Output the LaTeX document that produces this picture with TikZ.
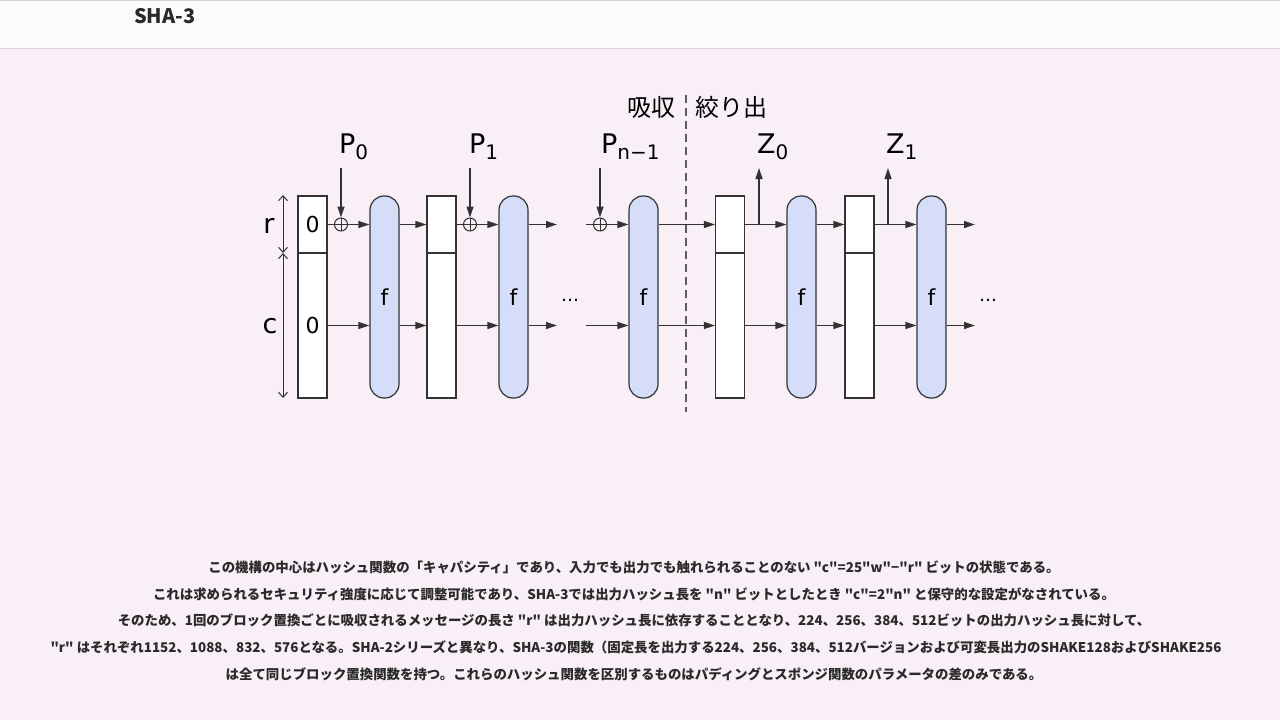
\documentclass[tikz,border=0pt]{standalone}
\usepackage{fontspec}
\setmainfont{DejaVu Sans}
\newfontfamily\jpfont{Noto Sans CJK JP}
\usetikzlibrary{arrows.meta}
\definecolor{pagebg}{HTML}{F8F0F6}
\definecolor{bandbg}{HTML}{FDFAFD}
\definecolor{rulegray}{HTML}{D6D2D6}
\definecolor{linegray}{HTML}{333333}
\definecolor{fblue}{HTML}{D5DDF8}
\definecolor{txtdark}{HTML}{2A2A2A}
\tikzset{
  rpart/.style={draw=linegray,fill=white,line width=1.2pt,minimum width=29pt,
    minimum height=57pt,inner sep=0pt,font=\fontsize{22}{22}\selectfont},
  cpart/.style={rpart,minimum height=145pt},
  fbox/.style={draw=linegray,fill=fblue,line width=1.2pt,rounded corners=14pt,
    minimum width=29pt,minimum height=202pt,inner sep=0pt,font=\fontsize{22}{22}\selectfont},
  xorop/.style={circle,draw=linegray,line width=1pt,minimum size=13pt,inner sep=0pt,
    path picture={\draw[line width=1pt] (path picture bounding box.north) -- (path picture bounding box.south)
      (path picture bounding box.west) -- (path picture bounding box.east);}},
  flow/.style={line width=1.2pt,draw=linegray,-{Triangle[length=11pt,width=7pt]}},
  wire/.style={line width=1.2pt,draw=linegray},
  dimline/.style={line width=1pt,draw=linegray,{Straight Barb[length=5pt,width=9pt]}-{Straight Barb[length=5pt,width=9pt]}},
  lbl/.style={font=\fontsize{27}{27}\selectfont,inner sep=0pt},
  phase/.style={font=\jpfont\fontsize{24}{24}\selectfont,inner sep=0pt},
  dots/.style={font=\fontsize{18}{18}\selectfont,inner sep=0pt},
  bodytext/.style={font=\jpfont\bfseries\fontsize{13.42}{13.42}\selectfont,text=txtdark,inner sep=0pt},
}
\newcommand{\lowidx}[1]{\textsubscript{\fontsize{20}{20}\selectfont #1}}
\begin{document}
\begin{tikzpicture}[x=1pt,y=-1pt]
\useasboundingbox (0,0) rectangle (1280,720);
% page background
\fill[pagebg] (0,0) rectangle (1280,720);
\fill[bandbg] (0,0) rectangle (1280,48);
\draw[rulegray,line width=1pt] (0,0.5) -- (1280,0.5);
\draw[rulegray,line width=1pt] (0,48) -- (1280,48);
\node[font=\jpfont\bfseries\fontsize{20}{20}\selectfont,text=txtdark,anchor=west,inner sep=0pt] (title) at (134,16) {SHA-3};

% state blocks and permutations
\node[rpart] (s1r) at (312.5,224.5) {0};
\node[cpart] (s1c) at (312.5,325.5) {0};
\node[fbox] (f1) at (384.5,297) {f};
\node[rpart] (s2r) at (441.5,224.5) {};
\node[cpart] (s2c) at (441.5,325.5) {};
\node[fbox] (f2) at (513.5,297) {f};
\node[fbox] (f3) at (643.5,297) {f};
\node[rpart] (s3r) at (730,224.5) {};
\node[cpart] (s3c) at (730,325.5) {};
\node[fbox] (f4) at (801.5,297) {f};
\node[rpart] (s4r) at (859.5,224.5) {};
\node[cpart] (s4c) at (859.5,325.5) {};
\node[fbox] (f5) at (931.5,297) {f};

% xor points
\node[xorop] (x1) at (341,224.5) {};
\node[xorop] (x2) at (470,224.5) {};
\node[xorop] (x3) at (600,224.5) {};

% free ends
\coordinate (p0top) at (341,168);
\coordinate (p1top) at (470,168);
\coordinate (p2top) at (600,168);
\coordinate (z0top) at (759,168);
\coordinate (z1top) at (888,168);
\coordinate (e2r) at (557,224.5);
\coordinate (e2c) at (557,325.5);
\coordinate (b3r) at (586,224.5);
\coordinate (b3c) at (586,325.5);
\coordinate (e5r) at (975,224.5);
\coordinate (e5c) at (975,325.5);

% absorbing
\draw[wire] (s1r.east) -- (x1.west);
\draw[flow] (x1.east) -- (f1.west |- x1);
\draw[flow] (s1c.east) -- (f1.west |- s1c);
\draw[flow] (f1.east |- s1r) -- (s2r.west);
\draw[flow] (f1.east |- s1c) -- (s2c.west);
\draw[wire] (s2r.east) -- (x2.west);
\draw[flow] (x2.east) -- (f2.west |- x2);
\draw[flow] (s2c.east) -- (f2.west |- s2c);
\draw[flow] (f2.east |- e2r) -- (e2r);
\draw[flow] (f2.east |- e2c) -- (e2c);
\draw[wire] (b3r) -- (x3.west);
\draw[flow] (x3.east) -- (f3.west |- x3);
\draw[flow] (b3c) -- (f3.west |- b3c);
\draw[flow] (p0top) -- (x1.north);
\draw[flow] (p1top) -- (x2.north);
\draw[flow] (p2top) -- (x3.north);

% squeezing
\draw[flow] (f3.east |- s3r) -- (s3r.west);
\draw[flow] (f3.east |- s3c) -- (s3c.west);
\draw[flow] (s3r.east) -- (f4.west |- s3r);
\draw[flow] (s3c.east) -- (f4.west |- s3c);
\draw[flow] (z0top |- s3r) -- (z0top);
\draw[flow] (f4.east |- s4r) -- (s4r.west);
\draw[flow] (f4.east |- s4c) -- (s4c.west);
\draw[flow] (s4r.east) -- (f5.west |- s4r);
\draw[flow] (s4c.east) -- (f5.west |- s4c);
\draw[flow] (z1top |- s4r) -- (z1top);
\draw[flow] (f5.east |- e5r) -- (e5r);
\draw[flow] (f5.east |- e5c) -- (e5c);

% r / c widths
\coordinate (dtop) at (283,195);
\coordinate (dmid) at (283,253);
\coordinate (dbot) at (283,398);
\draw[dimline] (dtop) -- (dmid);
\draw[dimline] (dmid) -- (dbot);
\node[lbl,anchor=base] (rlbl) at (269,233) {r};
\node[lbl,anchor=base] (clbl) at (270,333) {c};

% phase split
\coordinate (cuttop) at (686,95);
\coordinate (cutbot) at (686,412);
\draw[linegray!80,line width=1.2pt,dash pattern=on 8pt off 5pt] (cuttop) -- (cutbot);
\node[phase,anchor=east] (absorb) at (676,107) {吸収};
\node[phase,anchor=west] (squeeze) at (695,107) {絞り出};

% block labels
\node[lbl,anchor=base west] (p0) at (339,153) {P\lowidx{0}};
\node[lbl,anchor=base west] (p1) at (469,153) {P\lowidx{1}};
\node[lbl,anchor=base west] (p2) at (601,153) {P\lowidx{n−1}};
\node[lbl,anchor=base west] (z0) at (757,153) {Z\lowidx{0}};
\node[lbl,anchor=base west] (z1) at (886,153) {Z\lowidx{1}};
\node[dots] (dots1) at (570,300) {…};
\node[dots] (dots2) at (988,300) {…};

% caption
\node[bodytext] (t1) at (634,567) {この機構の中心はハッシュ関数の「キャパシティ」であり、入力でも出力でも触れられることのない "c"=25"w"−"r" ビットの状態である。};
\node[bodytext] (t2) at (634,594) {これは求められるセキュリティ強度に応じて調整可能であり、SHA-3では出力ハッシュ長を "n" ビットとしたとき "c"=2"n" と保守的な設定がなされている。};
\node[bodytext] (t3) at (634,620) {そのため、1回のブロック置換ごとに吸収されるメッセージの長さ "r" は出力ハッシュ長に依存することとなり、224、256、384、512ビットの出力ハッシュ長に対して、};
\node[bodytext] (t4) at (636,647) {"r" はそれぞれ1152、1088、832、576となる。SHA-2シリーズと異なり、SHA-3の関数（固定長を出力する224、256、384、512バージョンおよび可変長出力のSHAKE128およびSHAKE256};
\node[bodytext] (t5) at (634,674) {は全て同じブロック置換関数を持つ。これらのハッシュ関数を区別するものはパディングとスポンジ関数のパラメータの差のみである。};
\end{tikzpicture}
\end{document}
